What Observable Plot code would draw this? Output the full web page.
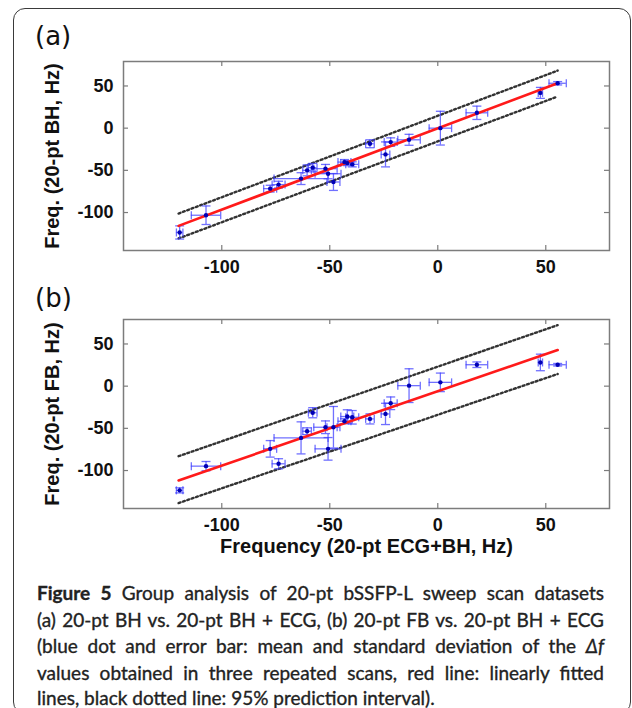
<!DOCTYPE html>
<html><head><meta charset="utf-8">
<script src="https://cdn.jsdelivr.net/npm/d3@7"></script>
<script src="https://cdn.jsdelivr.net/npm/@observablehq/plot@0.6"></script>
<style>
html,body{margin:0;padding:0;background:#fff;}
body{width:632px;height:708px;overflow:hidden;position:relative;font-family:"Liberation Sans",Arial,sans-serif;}
#box{position:absolute;left:13px;top:8px;width:618px;height:706px;border:1.6px solid #3a3a3a;border-radius:12px;box-sizing:border-box;}
.plot{position:absolute;left:0;}
.tag{position:absolute;left:35px;font-family:"DejaVu Sans",sans-serif;font-size:26px;line-height:26px;color:#111;}
.cap{position:absolute;left:37px;font-family:"Lato",sans-serif;font-size:19px;line-height:18px;color:#222;white-space:nowrap;-webkit-text-stroke:0.35px #222;}
.cap b{font-weight:700;}
</style></head>
<body>
<div id="box"></div>
<div class="tag" style="top:23px">(a)</div>
<div class="tag" style="top:285px">(b)</div>
<div id="pa" class="plot" style="top:0px"></div>
<div id="pb" class="plot" style="top:260px"></div>
<div class="cap" style="top:584px"><b>Figure 5</b> Group analysis of 20-pt bSSFP-L sweep scan datasets</div>
<div class="cap" style="top:610.5px">(a) 20-pt BH vs. 20-pt BH + ECG, (b) 20-pt FB vs. 20-pt BH + ECG</div>
<div class="cap" style="top:637px">(blue dot and error bar: mean and standard deviation of the <i>Δf</i></div>
<div class="cap" style="top:663.5px">values obtained in three repeated scans, red line: linearly fitted</div>
<div class="cap" style="top:689px">lines, black dotted line: 95% prediction interval).</div>
<script>
// Shared x values: 20-pt ECG+BH frequency (Hz) and their SD
const xs   = [-119.5, -107.3, -77.6, -73.7, -63.3, -60.5, -57.9, -52.0, -50.8, -48.3, -43.2, -41.9, -39.6, -31.4, -24.2, -21.8, -13.3, 1.2, 18.1, 47.5, 55.5];
const xErr = [1.5, 6.8, 3, 3, 12.5, 2, 2, 5.4, 6, 3, 3, 3, 3, 2, 2, 3, 5.2, 5.2, 5, 1, 4];
// Panel (a): 20-pt BH
const aY   = [-123.6, -103.2, -71.7, -66.9, -59.8, -50, -46.8, -48, -54, -63.8, -40.2, -41.4, -42.9, -18.5, -31.1, -16.5, -13.8, 0, 18.2, 41.8, 53.2];
const aErr = [7.8, 11, 4, 4, 7, 6.5, 5, 5, 6, 10, 3, 3, 3, 4.7, 14.8, 5, 6.5, 20, 7.9, 6.5, 2];
// Panel (b): 20-pt FB
const bY   = [-123.5, -94.8, -74.3, -92, -61.3, -53.4, -31.5, -48.7, -74.3, -48.7, -41.6, -36, -36.9, -38.8, -32.9, -20.3, 0.6, 4.5, 25.4, 28.1, 25.4];
const bErr = [3, 5.5, 9.8, 6, 19, 4, 6, 7.5, 13.4, 24.6, 3, 8, 8, 6, 12.6, 7.5, 20, 11, 3.3, 9.8, 1.5];
// Fitted line and 95% prediction interval end values
const fitX   = [-120, 55.5];
const aFit   = [-115.8, 53.2];
const aUpper = [-101.2, 68.2];
const aLower = [-130.7, 37.5];
const bFit   = [-111.7, 42.8];
const bUpper = [-83, 72.3];
const bLower = [-138.5, 14.4];
const ticks  = [-100, -50, 0, 50];
const yLabelA = "Freq. (20-pt BH, Hz)";
const yLabelB = "Freq. (20-pt FB, Hz)";
const xLabel  = "Frequency (20-pt ECG+BH, Hz)";

const capH = {draw(ctx, size){const r=Math.sqrt(size/Math.PI); ctx.moveTo(-r,0); ctx.lineTo(r,0);}};
const capV = {draw(ctx, size){const r=Math.sqrt(size/Math.PI); ctx.moveTo(0,-r); ctx.lineTo(0,r);}};

const W = 632, ML = 123, MR = 23, IH = 189, IW = W - ML - MR;
const blue = "#4040ff", frameC = "#7c7c7c";

function panel(ys, es, fit, up, lo, ylabel, mt, mb, withX) {
  const data = xs.map((x, i) => ({x, y: ys[i], ex: xErr[i], ey: es[i]}));
  const line = (arr) => fitX.map((x, i) => ({x, y: arr[i]}));
  const eb = {stroke: blue, strokeWidth: 1.3, strokeOpacity: 0.75};
  const dotted = {x: "x", y: "y", stroke: "#333", strokeWidth: 2.4, strokeDasharray: "2,2.6"};
  const marks = [
    Plot.frame({stroke: frameC, strokeWidth: 1.5}),
    Plot.tickX(ticks, {x: d => d, insetTop: IH - 5, stroke: frameC, strokeWidth: 1.2}),
    Plot.tickX(ticks, {x: d => d, insetBottom: IH - 5, stroke: frameC, strokeWidth: 1.2}),
    Plot.tickY(ticks, {y: d => d, insetRight: IW - 5, stroke: frameC, strokeWidth: 1.2}),
    Plot.tickY(ticks, {y: d => d, insetLeft: IW - 5, stroke: frameC, strokeWidth: 1.2}),
    Plot.axisX({ticks, tickSize: 0, tickPadding: 10, tickFormat: d => String(d), fontSize: 18, fontWeight: "bold", fill: "#111", label: null}),
    Plot.axisY({ticks, tickSize: 0, tickPadding: 10, tickFormat: d => String(d), fontSize: 18, fontWeight: "bold", fill: "#111", label: null}),
    Plot.line(line(up), dotted),
    Plot.line(line(lo), dotted),
    Plot.ruleX(data, {x: "x", y1: d => d.y - d.ey, y2: d => d.y + d.ey, ...eb}),
    Plot.ruleY(data, {y: "y", x1: d => d.x - d.ex, x2: d => d.x + d.ex, ...eb}),
    Plot.dot(data, {x: "x", y: d => d.y + d.ey, symbol: capH, r: 4.5, ...eb}),
    Plot.dot(data, {x: "x", y: d => d.y - d.ey, symbol: capH, r: 4.5, ...eb}),
    Plot.dot(data, {x: d => d.x + d.ex, y: "y", symbol: capV, r: 4, ...eb}),
    Plot.dot(data, {x: d => d.x - d.ex, y: "y", symbol: capV, r: 4, ...eb}),
    Plot.line(line(fit), {x: "x", y: "y", stroke: "#ff1a1a", strokeWidth: 2.6}),
    Plot.dot(data, {x: "x", y: "y", r: 2.2, fill: "#0000b4", stroke: "none"}),
    Plot.text([ylabel], {text: d => d, frameAnchor: "left", textAnchor: "middle", lineAnchor: "middle", dx: -71, rotate: -90, fontSize: 20, fontWeight: "bold", fill: "#111"})
  ];
  if (withX) marks.push(Plot.text([xLabel], {text: d => d, frameAnchor: "bottom", textAnchor: "middle", lineAnchor: "middle", dy: 38, fontSize: 20, fontWeight: "bold", fill: "#111"}));
  return Plot.plot({
    width: W, height: mt + IH + mb,
    marginLeft: ML, marginRight: MR, marginTop: mt, marginBottom: mb,
    x: {domain: [-145.5, 79.5]},
    y: {domain: [-145, 79]},
    style: {fontFamily: "'Liberation Sans', Arial, sans-serif", background: "transparent", overflow: "visible"},
    marks
  });
}

document.getElementById("pa").appendChild(panel(aY, aErr, aFit, aUpper, aLower, yLabelA, 61, 10, false));
document.getElementById("pb").appendChild(panel(bY, bErr, bFit, bUpper, bLower, yLabelB, 59, 52, true));

// justified caption: lines 1-4 span ~567px in the reference, last line natural
const caps = document.querySelectorAll(".cap");
caps.forEach((c, i) => {
  if (i === caps.length - 1) return;
  const w = c.getBoundingClientRect().width;
  const n = (c.textContent.match(/ /g) || []).length;
  c.style.wordSpacing = ((567 - w) / n) + "px";
});
</script>
</body></html>
